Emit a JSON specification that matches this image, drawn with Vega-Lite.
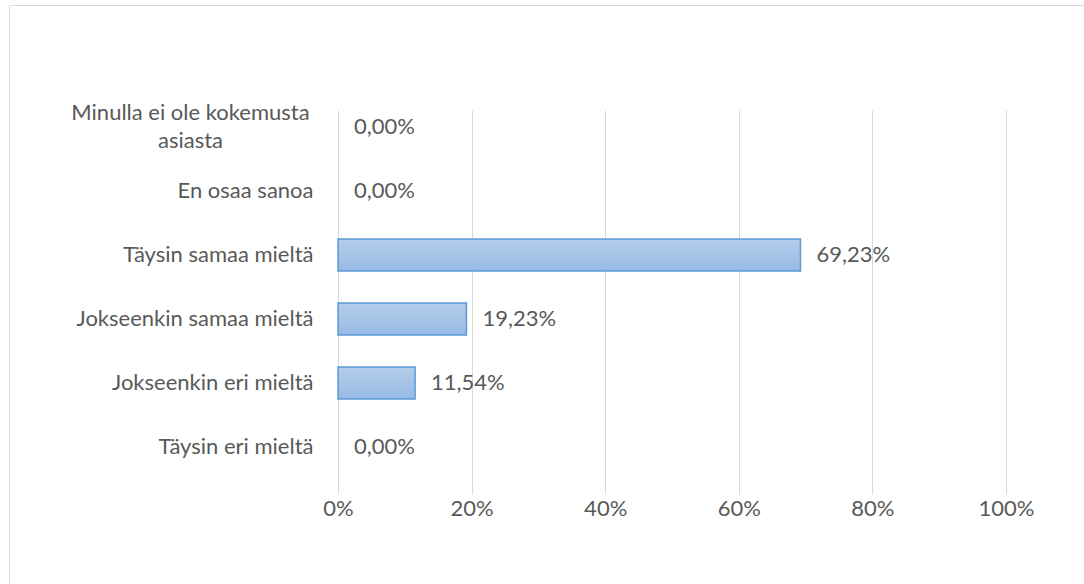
{
  "$schema": "https://vega.github.io/schema/vega-lite/v6.json",
  "autosize": {"type": "none"},
  "padding": {"left": 9, "top": 5, "right": 0, "bottom": 0},
  "width": 1075,
  "height": 579,
  "background": "white",
  "config": {
    "view": {"stroke": "#d9d9d9", "strokeWidth": 1},
    "locale": {"number": {"decimal": ",", "thousands": " ", "grouping": [3], "currency": ["", " €"]}},
    "font": "Lato"
  },
  "data": {
    "values": [
      {"category": "Minulla ei ole kokemusta asiasta", "value": 0},
      {"category": "En osaa sanoa", "value": 0},
      {"category": "Täysin samaa mieltä", "value": 0.6923},
      {"category": "Jokseenkin samaa mieltä", "value": 0.1923},
      {"category": "Jokseenkin eri mieltä", "value": 0.1154},
      {"category": "Täysin eri mieltä", "value": 0}
    ]
  },
  "encoding": {
    "y": {
      "field": "category",
      "type": "nominal",
      "sort": ["Minulla ei ole kokemusta asiasta", "En osaa sanoa", "Täysin samaa mieltä", "Jokseenkin samaa mieltä", "Jokseenkin eri mieltä", "Täysin eri mieltä"],
      "scale": {"range": [90, 474], "paddingInner": 0.5, "paddingOuter": 0.25},
      "axis": {
        "title": null,
        "orient": "left",
        "offset": -329,
        "domain": false,
        "ticks": false,
        "grid": false,
        "labelFont": "Lato",
        "labelFontSize": 22,
        "labelColor": "#595959",
        "labelLineHeight": 28,
        "labelLimit": 400,
        "labelExpr": "datum.value == 'Minulla ei ole kokemusta asiasta' ? ['Minulla ei ole kokemusta', 'asiasta'] : datum.value",
        "labelAlign": {"condition": {"test": "datum.value == 'Minulla ei ole kokemusta asiasta'", "value": "center"}, "value": "right"},
        "labelPadding": {"condition": {"test": "datum.value == 'Minulla ei ole kokemusta asiasta'", "value": 148}, "value": 25},
        "labelOffset": {"condition": {"test": "datum.value == 'Minulla ei ole kokemusta asiasta'", "value": -14}, "value": 0}
      }
    },
    "x": {
      "field": "value",
      "type": "quantitative",
      "scale": {"domain": [0, 1], "range": [329, 997], "nice": false, "zero": true},
      "axis": {
        "title": null,
        "orient": "bottom",
        "offset": -105,
        "values": [0, 0.2, 0.4, 0.6, 0.8, 1],
        "format": ".0%",
        "domain": false,
        "ticks": false,
        "grid": true,
        "gridColor": "#d9d9d9",
        "gridWidth": 1,
        "labelFlush": false,
        "labelFont": "Lato",
        "labelFontSize": 22,
        "labelColor": "#595959",
        "labelPadding": 19
      }
    }
  },
  "layer": [
    {
      "transform": [{"filter": "datum.value > 0"}],
      "mark": {
        "type": "bar",
        "stroke": "#5b9bd5",
        "strokeWidth": 1.5,
        "color": {
          "gradient": "linear",
          "x1": 0, "y1": 0, "x2": 0, "y2": 1,
          "stops": [
            {"offset": 0, "color": "#b3cdea"},
            {"offset": 1, "color": "#97bae4"}
          ]
        }
      }
    },
    {
      "mark": {"type": "text", "align": "left", "baseline": "middle", "dx": 16, "fontSize": 22, "font": "Lato", "color": "#595959"},
      "encoding": {
        "text": {"field": "value", "type": "quantitative", "format": ".2%"}
      }
    }
  ]
}
